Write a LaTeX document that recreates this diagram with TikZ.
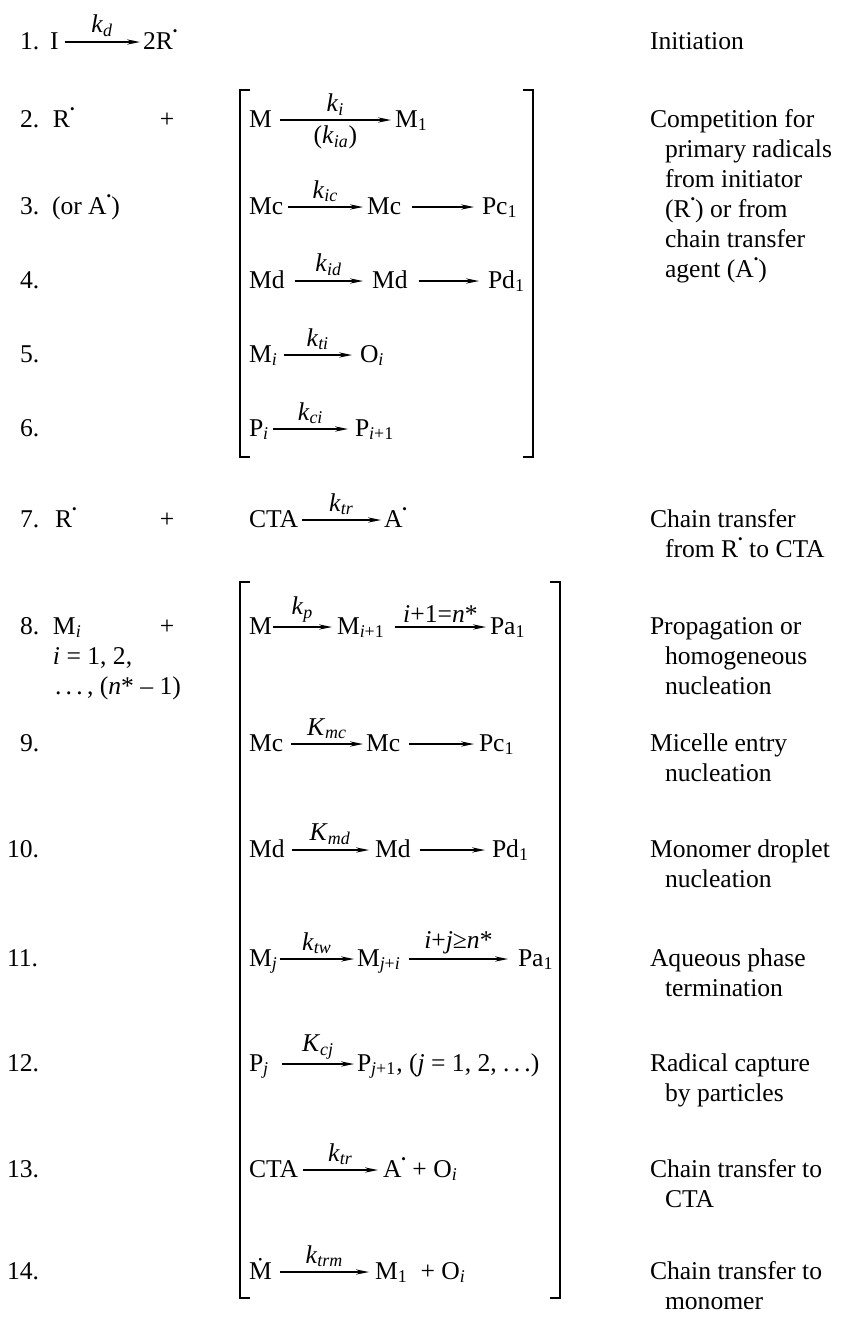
\documentclass[tikz,border=0pt]{standalone}
\usepackage{fontspec}
\setmainfont{Liberation Serif}
\usetikzlibrary{arrows.meta,calc}
\newcommand{\rd}{\raisebox{0.52em}{\fontsize{6.5}{6.5}\selectfont\textbullet}}
\newcommand{\sbi}[1]{\textsubscript{\textit{#1}}}
\newcommand{\sbr}[1]{\textsubscript{#1}}
\newcommand{\kk}[1]{\textit{k}\sbi{#1}}
\newcommand{\KK}[1]{\textit{K}\sbi{#1}}
\begin{document}
\begin{tikzpicture}[x=0.5pt,y=-0.5pt,
  every node/.style={font=\fontsize{12.8}{15}\selectfont, inner sep=0pt, outer sep=0pt},
  sp/.style={anchor=base west},
  pl/.style={anchor=base},
  desc/.style={anchor=base west},
  rx/.style={line width=0.75pt,-{Stealth[length=6.5pt,width=2.6pt]}},
  brk/.style={line width=0.65pt},
  lab/.style={midway,above=2.5pt},
  labb/.style={midway,below=3pt}
]
\useasboundingbox (0,0) rectangle (841,1318);

% ---------- row 1
\node[sp] (n1) at (20,49) {1.};
\node[sp] (i1) at (50,49) {I};
\node[sp] (r1) at (143,49) {2R\rd};
\draw[rx] ($(i1.base east)+(6,-7)$) -- node[lab]{\kk{d}} ($(r1.base west)+(-3,-7)$);

% ---------- bracket 1
\draw[brk] (250,90) -- (240,90) -- (240,457) -- (250,457);
\draw[brk] (523,90) -- (533,90) -- (533,457) -- (523,457);

% ---------- row 2
\node[sp] (n2) at (20,127) {2.};
\node[sp] (rr2) at (53,127) {R\rd};
\node[pl] (p2) at (167,127) {+};
\node[sp] (a2) at (249,127) {M};
\node[sp] (b2) at (395,127) {M\sbr{1}};
\draw[rx] ($(a2.base east)+(8,-7)$) -- node[lab]{\kk{i}} node[labb]{(\kk{ia})} ($(b2.base west)+(-4,-7)$);

% ---------- row 3
\node[sp] (n3) at (20,214) {3.};
\node[sp] (o3) at (52,214) {(or A\rd)};
\node[sp] (a3) at (249,214) {Mc};
\node[sp] (b3) at (367,214) {Mc};
\node[sp] (c3) at (482,214) {Pc\sbr{1}};
\draw[rx] ($(a3.base east)+(5,-7)$) -- node[lab]{\kk{ic}} ($(b3.base west)+(-4,-7)$);
\draw[rx] ($(b3.base east)+(11,-7)$) -- ($(c3.base west)+(-8,-7)$);

% ---------- row 4
\node[sp] (n4) at (20,288) {4.};
\node[sp] (a4) at (249,288) {Md};
\node[sp] (b4) at (372,288) {Md};
\node[sp] (c4) at (488,288) {Pd\sbr{1}};
\draw[rx] ($(a4.base east)+(10,-7)$) -- node[lab]{\kk{id}} ($(b4.base west)+(-9,-7)$);
\draw[rx] ($(b4.base east)+(11,-7)$) -- ($(c4.base west)+(-9,-7)$);

% ---------- row 5
\node[sp] (n5) at (20,362) {5.};
\node[sp] (a5) at (249,362) {M\sbi{i}};
\node[sp] (b5) at (360,362) {O\sbi{i}};
\draw[rx] ($(a5.base east)+(6,-7)$) -- node[lab]{\kk{ti}} ($(b5.base west)+(-8,-7)$);

% ---------- row 6
\node[sp] (n6) at (20,436) {6.};
\node[sp] (a6) at (249,436) {P\sbi{i}};
\node[sp] (b6) at (355,436) {P\textsubscript{\textit{i}+1}};
\draw[rx] ($(a6.base east)+(4,-7)$) -- node[lab]{\kk{ci}} ($(b6.base west)+(-7,-7)$);

% ---------- row 7
\node[sp] (n7) at (20,527) {7.};
\node[sp] (rr7) at (55,527) {R\rd};
\node[pl] (p7) at (167,527) {+};
\node[sp] (a7) at (249,527) {CTA};
\node[sp] (b7) at (384,527) {A\rd};
\draw[rx] ($(a7.base east)+(4,-7)$) -- node[lab]{\kk{tr}} ($(b7.base west)+(-3,-7)$);

% ---------- bracket 2
\draw[brk] (250,582) -- (240,582) -- (240,1298) -- (250,1298);
\draw[brk] (550,582) -- (560,582) -- (560,1298) -- (550,1298);

% ---------- row 8
\node[sp] (n8) at (20,634) {8.};
\node[sp] (m8) at (53,634) {M\sbi{i}};
\node[pl] (p8) at (167,634) {+};
\node[sp] (c8a) at (53,664) {\textit{i} = 1, 2,};
\node[sp] (c8b) at (55,694) {.\,.\,.\,, (\textit{n}* – 1)};
\node[sp] (a8) at (249,634) {M};
\node[sp] (b8) at (337,634) {M\textsubscript{\textit{i}+1}};
\node[sp] (c8) at (490,634) {Pa\sbr{1}};
\draw[rx] ($(a8.base east)+(1,-7)$) -- node[lab]{\kk{p}} ($(b8.base west)+(-5,-7)$);
\draw[rx] ($(b8.base east)+(10,-7)$) -- node[lab]{\textit{i}+1=\textit{n}*} ($(c8.base west)+(-4,-7)$);

% ---------- row 9
\node[sp] (n9) at (20,751) {9.};
\node[sp] (a9) at (249,751) {Mc};
\node[sp] (b9) at (366,751) {Mc};
\node[sp] (c9) at (479,751) {Pc\sbr{1}};
\draw[rx] ($(a9.base east)+(8,-7)$) -- node[lab]{\KK{mc}} ($(b9.base west)+(-3,-7)$);
\draw[rx] ($(b9.base east)+(9,-7)$) -- ($(c9.base west)+(-5,-7)$);

% ---------- row 10
\node[sp] (n10) at (7,857) {10.};
\node[sp] (a10) at (249,857) {Md};
\node[sp] (b10) at (375,857) {Md};
\node[sp] (c10) at (492,857) {Pd\sbr{1}};
\draw[rx] ($(a10.base east)+(7,-7)$) -- node[lab]{\KK{md}} ($(b10.base west)+(-6,-7)$);
\draw[rx] ($(b10.base east)+(9,-7)$) -- ($(c10.base west)+(-7,-7)$);

% ---------- row 11
\node[sp] (n11) at (7,966) {11.};
\node[sp] (a11) at (249,966) {M\sbi{j}};
\node[sp] (b11) at (357,966) {M\textsubscript{\textit{j}+\textit{i}}};
\node[sp] (c11) at (518,966) {Pa\sbr{1}};
\draw[rx] ($(a11.base east)+(2,-7)$) -- node[lab]{\kk{tw}} ($(b11.base west)+(-3,-7)$);
\draw[rx] ($(b11.base east)+(8,-7)$) -- node[lab]{\textit{i}+\textit{j}≥\textit{n}*} ($(c11.base west)+(-10,-7)$);

% ---------- row 12
\node[sp] (n12) at (7,1071) {12.};
\node[sp] (a12) at (249,1071) {P\sbi{j}};
\node[sp] (b12) at (357,1071) {P\textsubscript{\textit{j}+1}, (\textit{j} = 1, 2, .\,.\,.)};
\draw[rx] ($(a12.base east)+(13,-7)$) -- node[lab]{\KK{cj}} ($(b12.base west)+(-3,-7)$);

% ---------- row 13
\node[sp] (n13) at (7,1177) {13.};
\node[sp] (a13) at (249,1177) {CTA};
\node[sp] (b13) at (383,1177) {A\rd{} + O\sbi{i}};
\draw[rx] ($(a13.base east)+(5,-7)$) -- node[lab]{\kk{tr}} ($(b13.base west)+(-5,-7)$);

% ---------- row 14
\node[sp] (n14) at (7,1279) {14.};
\node[sp] (a14) at (249,1279) {\.{M}};
\node[sp] (b14) at (375,1279) {M\sbr{1}\ \ + O\sbi{i}};
\draw[rx] ($(a14.base east)+(8,-7)$) -- node[lab]{\kk{trm}} ($(b14.base west)+(-6,-7)$);

% ---------- descriptions
\node[desc] (d1) at (650,49) {Initiation};
\node[desc] (d2a) at (650,127) {Competition for};
\node[desc] (d2b) at (665,157) {primary radicals};
\node[desc] (d2c) at (665,187) {from initiator};
\node[desc] (d2d) at (665,217) {(R\rd) or from};
\node[desc] (d2e) at (665,247) {chain transfer};
\node[desc] (d2f) at (665,277) {agent (A\rd)};
\node[desc] (d7a) at (650,527) {Chain transfer};
\node[desc] (d7b) at (665,557) {from R\rd{} to CTA};
\node[desc] (d8a) at (650,634) {Propagation or};
\node[desc] (d8b) at (665,664) {homogeneous};
\node[desc] (d8c) at (665,694) {nucleation};
\node[desc] (d9a) at (650,751) {Micelle entry};
\node[desc] (d9b) at (665,781) {nucleation};
\node[desc] (d10a) at (650,857) {Monomer droplet};
\node[desc] (d10b) at (665,887) {nucleation};
\node[desc] (d11a) at (650,966) {Aqueous phase};
\node[desc] (d11b) at (665,996) {termination};
\node[desc] (d12a) at (650,1071) {Radical capture};
\node[desc] (d12b) at (665,1101) {by particles};
\node[desc] (d13a) at (650,1177) {Chain transfer to};
\node[desc] (d13b) at (665,1207) {CTA};
\node[desc] (d14a) at (650,1279) {Chain transfer to};
\node[desc] (d14b) at (665,1309) {monomer};
\end{tikzpicture}
\end{document}
